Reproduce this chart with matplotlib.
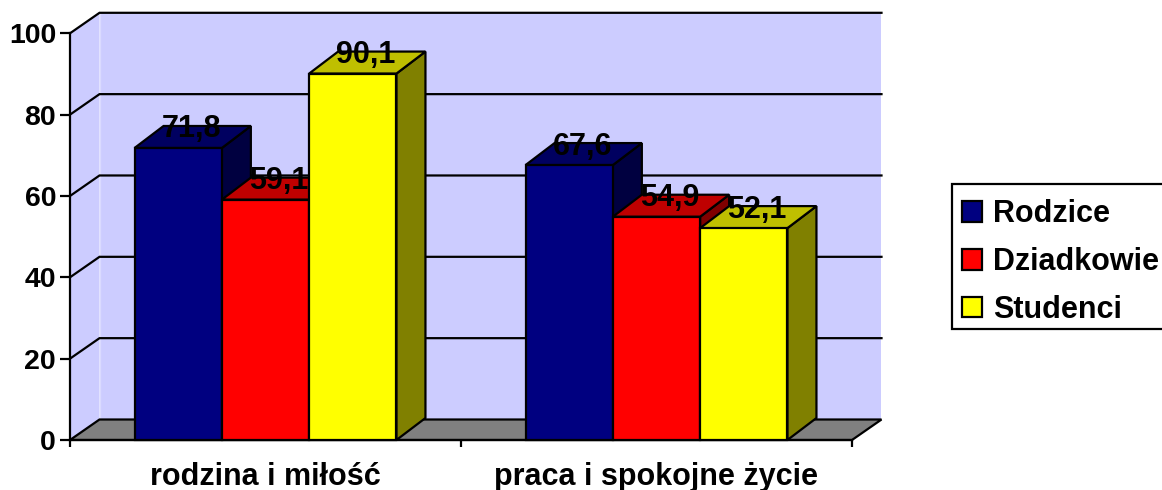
import matplotlib
matplotlib.use("Agg")
import matplotlib.pyplot as plt
from matplotlib.patches import Patch, Polygon, Rectangle
from matplotlib.colors import to_rgb

categories = ["rodzina i miłość", "praca i spokojne życie"]
series_names = ["Rodzice", "Dziadkowie", "Studenci"]
rodzice = [71.8, 67.6]
dziadkowie = [59.1, 54.9]
studenci = [90.1, 52.1]
labels = [["71,8", "67,6"], ["59,1", "54,9"], ["90,1", "52,1"]]
y_ticks = [0, 20, 40, 60, 80, 100]

colors = ["#000080", "#FF0000", "#FFFF00"]
wall = "#CCCCFF"
floor = "#808080"

W, H = 1162, 490
plt.rcParams["font.family"] = ["Liberation Sans", "DejaVu Sans"]
plt.rcParams["font.weight"] = "bold"

fig = plt.figure(figsize=(W / 100, H / 100), dpi=100)
ax = fig.add_axes([70 / W, (H - 440) / H, 782 / W, 406.7 / H])
ax.set_xlim(0, 2)
ax.set_ylim(0, 100)
ax.patch.set_visible(False)

# depth of the fake 3d box, in data units
wall_dx = 29.5 / 391
wall_dy = 20.5 / 4.067
bar_dx = 29 / 391
bar_dy = 22 / 4.067
bar_w = 87.3 / 391
lw = 1.6


def shade(color, k):
    return tuple(c * k for c in to_rgb(color))


def poly(points, face, z, edge="black"):
    ax.add_patch(Polygon(points, closed=True, facecolor=face, edgecolor=edge,
                         linewidth=lw, zorder=z, clip_on=False, joinstyle="miter"))


# walls and floor
poly([(0, 0), (wall_dx, wall_dy), (wall_dx, 100 + wall_dy), (0, 100)], wall, 1, edge="none")
poly([(wall_dx, wall_dy), (2 + wall_dx, wall_dy), (2 + wall_dx, 100 + wall_dy),
      (wall_dx, 100 + wall_dy)], wall, 1, edge="none")
ax.plot([wall_dx, wall_dx], [wall_dy, 100 + wall_dy], color="#DADAFF", lw=1, zorder=1.1, clip_on=False)
poly([(0, 0), (wall_dx, wall_dy), (2 + wall_dx, wall_dy), (2, 0)], floor, 1.2)

for t in y_ticks[1:]:
    ax.plot([0, wall_dx, 2 + wall_dx], [t, t + wall_dy, t + wall_dy],
            color="black", lw=lw, zorder=1.3, clip_on=False, solid_joinstyle="miter")

# bars, left to right so each one covers the side of the previous
z = 2
for g in range(len(categories)):
    for i, values in enumerate([rodzice, dziadkowie, studenci]):
        v = values[g]
        x0 = g + 0.5 + (i - 1.5) * bar_w
        x1 = x0 + bar_w
        c = colors[i]
        poly([(x1, 0), (x1 + bar_dx, bar_dy), (x1 + bar_dx, v + bar_dy), (x1, v)], shade(c, 0.5), z)
        poly([(x0, v), (x0 + bar_dx, v + bar_dy), (x1 + bar_dx, v + bar_dy), (x1, v)], shade(c, 0.75), z)
        poly([(x0, 0), (x1, 0), (x1, v), (x0, v)], c, z)
        ax.text((x0 + x1) / 2 + bar_dx * 0.45, v + bar_dy, labels[i][g], ha="center",
                va="center_baseline", fontsize=22, fontweight="bold", color="black", zorder=10)
        z += 1

# axes
for s in ["top", "right"]:
    ax.spines[s].set_visible(False)
for s in ["left", "bottom"]:
    ax.spines[s].set_linewidth(lw)
    ax.spines[s].set_zorder(1.5)
ax.set_yticks(y_ticks)
ax.tick_params(axis="y", length=7, width=lw, pad=3, labelsize=20.5)
ax.set_xticks([0, 1, 2])
ax.set_xticklabels([])
ax.tick_params(axis="x", which="major", length=5, width=lw)
ax.set_xticks([0.5, 1.5], minor=True)
ax.set_xticklabels(categories, minor=True, fontsize=22, fontweight="bold")
ax.tick_params(axis="x", which="minor", length=0, pad=15.5)

# legend box runs off the right edge like in the original
fig.add_artist(Rectangle((952 / W, (H - 329) / H), 230 / W, 145 / H, transform=fig.transFigure,
                         facecolor="white", edgecolor="black", linewidth=lw))
handles = [Patch(facecolor=c, edgecolor="black", linewidth=lw) for c in colors]
leg = fig.legend(handles, series_names, loc="lower left",
                 bbox_to_anchor=(962 / W, (H - 325) / H),
                 bbox_transform=fig.transFigure,
                 prop={"weight": "bold", "size": 22}, frameon=False,
                 borderaxespad=0, borderpad=0,
                 handlelength=0.65, handleheight=0.65, handletextpad=0.36, labelspacing=0.585)
leg.set_zorder(5)

fig.savefig("out.png", dpi=100)
